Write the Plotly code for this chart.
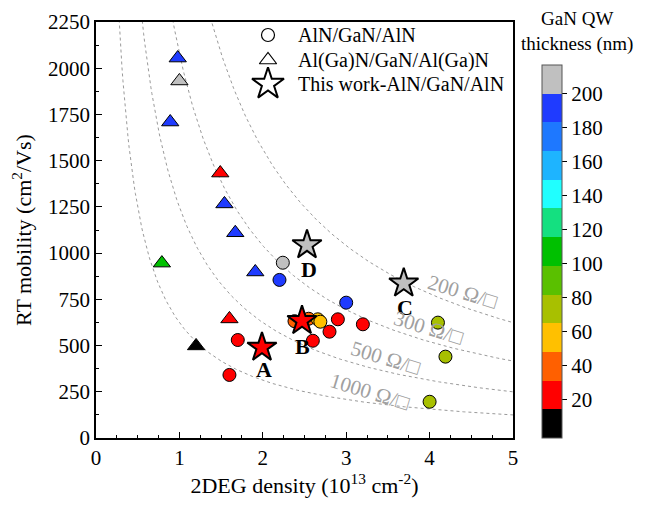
import plotly.graph_objects as go
import numpy as np

# ---------------- data ----------------
circle_n = [2.24, 2.20, 3.00, 1.70, 1.60, 2.38, 2.55, 2.66, 2.69, 2.90, 2.80, 2.60, 3.20, 4.10, 4.19, 4.00]
circle_mu = [948, 855, 732, 530, 341, 632, 645, 642, 629, 642, 575, 526, 615, 624, 440, 196]
circle_t = [210, 190, 190, 25, 25, 40, 40, 55, 55, 25, 25, 25, 25, 70, 70, 70]

tri_n = [0.98, 1.00, 0.89, 1.49, 1.54, 1.67, 0.79, 1.91, 1.60, 1.20]
tri_mu = [2055, 1931, 1709, 1433, 1266, 1110, 946, 898, 644, 498]
tri_t = [190, 210, 190, 25, 190, 190, 105, 190, 25, 5]

star_n = [1.99, 2.47, 3.69, 2.53]
star_mu = [490, 634, 837, 1044]
star_t = [25, 25, 210, 210]
star_labels = ["A", "B", "C", "D"]
star_label_n = [2.01, 2.47, 3.70, 2.55]
star_label_mu = [368, 494, 708, 909]

r_levels = [200, 300, 500, 1000]           # sheet resistance, ohm/sq
r_label_n = [4.40, 3.99, 3.47, 3.29]
r_label_mu = [790, 595, 433, 249]

legend_names = ["AlN/GaN/AlN", "Al(Ga)N/GaN/Al(Ga)N", "This work-AlN/GaN/AlN"]

cbar_ticks = [20, 40, 60, 80, 100, 120, 140, 160, 180, 200]
bin_colors = ["#000000", "#FF0000", "#FF6000", "#FFC000", "#A8C000", "#5AC000",
              "#00C000", "#14E080", "#20FFFF", "#1EB4FF", "#1E78FF", "#1F3BFF", "#C0C0C0"]
cmin, cmax = -2.6, 217.0

# ---------------- figure ----------------
serif = "Liberation Serif"
nb = len(bin_colors)
cscale = []
for i, c in enumerate(bin_colors):
    cscale.append([i / nb, c])
    cscale.append([(i + 1) / nb, c])

# plot-area geometry (pixels)
L, T, PW, PH = 88, 14, 417, 416
W, H = 637, 499

fig = go.Figure()

q = 1.602e-19
n_grid = np.linspace(0.05, 5.0, 400)
for R in r_levels:
    mu = 1.0 / (q * R * n_grid * 1e13)
    fig.add_trace(go.Scatter(x=n_grid, y=mu, mode="lines", showlegend=False, hoverinfo="skip",
                             line=dict(color="#9A9A9A", width=1, dash="dot")))

common_marker = dict(colorscale=cscale, cmin=cmin, cmax=cmax, line=dict(color="black", width=1))

fig.add_trace(go.Scatter(x=circle_n, y=circle_mu, mode="markers", showlegend=False,
                         name=legend_names[0],
                         marker=dict(symbol="circle", size=13, color=circle_t, **common_marker)))
fig.add_trace(go.Scatter(x=tri_n, y=tri_mu, mode="markers", showlegend=False,
                         name=legend_names[1],
                         marker=dict(symbol="triangle-up", size=15, color=tri_t, **common_marker)))
fig.add_trace(go.Scatter(x=star_n, y=star_mu, mode="markers", showlegend=False,
                         name=legend_names[2],
                         marker=dict(symbol="star", size=22, color=star_t, colorscale=cscale,
                                     cmin=cmin, cmax=cmax, line=dict(color="black", width=2),
                                     showscale=True,
                                     colorbar=dict(x=1.0695, xanchor="left", xpad=0,
                                                   y=0, yanchor="bottom", ypad=0,
                                                   len=0.897, lenmode="fraction",
                                                   thickness=20, outlinecolor="#555", outlinewidth=1,
                                                   tickvals=cbar_ticks, ticks="outside", ticklen=5,
                                                   tickcolor="black",
                                                   tickfont=dict(family=serif, size=21, color="black")))))

# legend (drawn on an overlay axis spanning the plot area, range 0..1)
leg_x = (268 - 96) / 417
leg_text_x = (296 - 96) / 417
leg_y = [(438 - 35) / 416, (438 - 60) / 416, (438 - 84) / 416]
leg_symbols = ["circle-open", "triangle-up-open", "star-open"]
leg_sizes = [13, 15, 24]
leg_widths = [1.2, 1.2, 2]
for name, yy, sym, sz, lw in zip(legend_names, leg_y, leg_symbols, leg_sizes, leg_widths):
    fig.add_trace(go.Scatter(x=[leg_x], y=[yy], xaxis="x2", yaxis="y2", mode="markers",
                             showlegend=False, hoverinfo="skip", name=name,
                             marker=dict(symbol=sym, size=sz, color="black", line=dict(width=lw))))
    fig.add_annotation(xref="paper", yref="paper", x=leg_text_x, y=yy, xanchor="left",
                       yanchor="middle", text=name, showarrow=False,
                       font=dict(family=serif, size=20, color="black"))

for lab, xn, ym in zip(star_labels, star_label_n, star_label_mu):
    fig.add_annotation(x=xn, y=ym, text="<b>%s</b>" % lab, showarrow=False,
                       font=dict(family=serif, size=22, color="black"))

for R, xn, ym in zip(r_levels, r_label_n, r_label_mu):
    fig.add_annotation(x=xn, y=ym, text="%d Ω/□" % R, showarrow=False, textangle=17,
                       font=dict(family=serif, size=21, color="#A0A0A0"))

fig.add_annotation(xref="paper", yref="paper", x=(577 - 96) / 417, y=(438 - 57) / 416,
                   xanchor="center", yanchor="bottom",
                   text="GaN QW<br>thickness (nm)", showarrow=False,
                   font=dict(family=serif, size=19, color="black"))

axis_common = dict(showline=True, linecolor="black", linewidth=1.5, mirror=True,
                   ticks="inside", ticklen=6, tickwidth=1.2, tickcolor="black",
                   showgrid=False, zeroline=False,
                   tickfont=dict(family=serif, size=21, color="black"))

fig.update_xaxes(range=[0, 5], dtick=1,
                 minor=dict(ticks="inside", dtick=0.25, ticklen=3, tickcolor="black"),
                 title=dict(text="2DEG density (10<sup>13</sup> cm<sup>-2</sup>)",
                            font=dict(family=serif, size=22, color="black"), standoff=4),
                 **axis_common)
fig.update_yaxes(range=[0, 2250], dtick=250,
                 minor=dict(ticks="inside", dtick=125, ticklen=3, tickcolor="black"),
                 title=dict(text="RT mobility (cm<sup>2</sup>/Vs)",
                            font=dict(family=serif, size=22, color="black"), standoff=12),
                 **axis_common)

fig.update_layout(width=W, height=H,
                  margin=dict(l=L, r=W - L - PW, t=T, b=H - T - PH, autoexpand=False),
                  paper_bgcolor="white", plot_bgcolor="white",
                  showlegend=False,
                  xaxis2=dict(overlaying="x", range=[0, 1], visible=False, fixedrange=True),
                  yaxis2=dict(overlaying="y", range=[0, 1], visible=False, fixedrange=True))

fig.write_html("out.html")
